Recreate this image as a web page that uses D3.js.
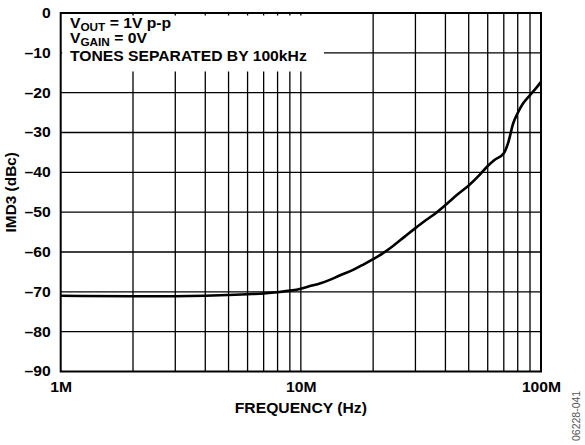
<!DOCTYPE html>
<html>
<head>
<meta charset="utf-8">
<script src="https://cdn.jsdelivr.net/npm/d3@7"></script>
<style>
  html, body { margin: 0; padding: 0; background: #fff; }
  svg { display: block; }
  text { font-family: Arial, "Liberation Sans", Helvetica, sans-serif; }
</style>
</head>
<body>
<svg id="chart" width="585" height="445"></svg>
<script>
// Third-order intermodulation distortion vs. frequency
const freqMHz = [1, 2, 3, 4, 5, 6, 7, 8, 9, 10, 11, 12, 13.2, 14.5, 16.5, 18, 20, 22, 24.2, 27, 30, 33, 35.6, 40, 45, 50, 55, 60, 64, 70, 73.3, 76.5, 80, 84, 90, 95, 100];
const imd3dBc = [-71.0, -71.1, -71.1, -71.0, -70.8, -70.6, -70.4, -70.1, -69.7, -69.2, -68.5, -67.9, -67.0, -65.9, -64.5, -63.3, -61.8, -60.3, -58.5, -56.2, -54.0, -52.1, -50.7, -48.2, -45.5, -43.3, -40.9, -38.4, -36.9, -35.2, -32.2, -27.8, -25.1, -22.8, -20.6, -19.0, -17.3];

const xTickValues = [1e6, 1e7, 1e8];
const xTickLabels = ["1M", "10M", "100M"];
const yTickValues = [0, -10, -20, -30, -40, -50, -60, -70, -80, -90];
const legendLines = [
  { main: "V", sub: "OUT", rest: " = 1V p-p" },
  { main: "V", sub: "GAIN", rest: " = 0V" },
  { main: "TONES SEPARATED BY 100kHz", sub: "", rest: "" }
];

const svg = d3.select("#chart");
const plotLeft = 60.7, plotRight = 541, plotTop = 13, plotBottom = 371.5;
const FONT = 14, WIDE = 1.12;   // wide bold lettering

// stretch each text horizontally by a factor
function widen(sel, f) {
  sel.each(function () {
    const w = this.getComputedTextLength();
    d3.select(this).attr("textLength", w * f).attr("lengthAdjust", "spacingAndGlyphs");
  });
}

const x = d3.scaleLog().domain([1e6, 1e8]).range([plotLeft, plotRight]);
const y = d3.scaleLinear().domain([-90, 0]).range([plotBottom, plotTop]);

// every 1-2-...-9 grid line in each decade
const gridFreqs = [];
for (let dec = 1e6; dec < 1e8; dec *= 10) {
  for (let m = 2; m <= 9; m++) gridFreqs.push(dec * m);
}
gridFreqs.push(1e7);

const grid = svg.append("g").attr("stroke", "#000").attr("stroke-width", 1.3);
grid.selectAll("line.v").data(gridFreqs).join("line")
  .attr("class", "v")
  .attr("x1", d => x(d)).attr("x2", d => x(d))
  .attr("y1", plotTop).attr("y2", plotBottom);
grid.selectAll("line.h").data(yTickValues.filter(v => v !== 0 && v !== -90)).join("line")
  .attr("class", "h")
  .attr("x1", plotLeft).attr("x2", plotRight)
  .attr("y1", d => y(d)).attr("y2", d => y(d));

// text block with white background
svg.append("rect")
  .attr("x", plotLeft + 1.5).attr("y", plotTop + 2.5)
  .attr("width", 324 - plotLeft - 1.5).attr("height", 71.5 - plotTop - 2.5)
  .attr("fill", "#fff");

const legend = svg.append("g").attr("font-weight", "bold").attr("font-size", FONT).attr("fill", "#000");
const baselines = [27.5, 42.5, 61];
legendLines.forEach((ln, i) => {
  const t = legend.append("text").attr("x", 70).attr("y", baselines[i]);
  t.append("tspan").text(ln.main);
  if (ln.sub) {
    t.append("tspan").attr("font-size", 10.5).attr("dy", 3).text(ln.sub);
    t.append("tspan").attr("dy", -3).text(ln.rest);
  }
});
widen(legend.selectAll("text"), WIDE);

// plot frame
svg.append("rect")
  .attr("x", plotLeft).attr("y", plotTop)
  .attr("width", plotRight - plotLeft).attr("height", plotBottom - plotTop)
  .attr("fill", "none").attr("stroke", "#000").attr("stroke-width", 2);

// data curve
const line = d3.line()
  .x((d, i) => x(freqMHz[i] * 1e6))
  .y(d => y(d))
  .curve(d3.curveMonotoneX);
svg.append("path")
  .datum(imd3dBc)
  .attr("d", line)
  .attr("fill", "none")
  .attr("stroke", "#000")
  .attr("stroke-width", 2.6)
  .attr("stroke-linejoin", "round");

// axes labels (no tick marks; the grid serves as ticks)
const xAxis = d3.axisBottom(x).tickValues(xTickValues)
  .tickFormat((d, i) => xTickLabels[i]).tickSize(0).tickPadding(11);
const xg = svg.append("g").attr("transform", `translate(0,${plotBottom})`).call(xAxis)
  .call(g => g.select(".domain").remove());
xg.selectAll("text").attr("font-size", FONT).attr("font-weight", "bold").attr("fill", "#000")
  .attr("font-family", "Arial, 'Liberation Sans', sans-serif");
widen(xg.selectAll("text"), WIDE);

const yAxis = d3.axisLeft(y).tickValues(yTickValues)
  .tickFormat(d => d === 0 ? "0" : "\u2013" + Math.abs(d)).tickSize(0).tickPadding(10);
const yg = svg.append("g").attr("transform", `translate(${plotLeft},0)`).call(yAxis)
  .call(g => g.select(".domain").remove());
yg.selectAll("text").attr("font-size", FONT).attr("font-weight", "bold").attr("fill", "#000")
  .attr("font-family", "Arial, 'Liberation Sans', sans-serif");
widen(yg.selectAll("text"), WIDE);

const xTitle = svg.append("text")
  .attr("x", (plotLeft + plotRight) / 2).attr("y", 413)
  .attr("text-anchor", "middle").attr("font-size", FONT).attr("font-weight", "bold")
  .text("FREQUENCY (Hz)");
widen(xTitle, WIDE);

const yTitle = svg.append("text")
  .attr("transform", `translate(16,${(plotTop + plotBottom) / 2}) rotate(-90)`)
  .attr("text-anchor", "middle").attr("font-size", FONT).attr("font-weight", "bold")
  .text("IMD3 (dBc)");
widen(yTitle, 1.1);

svg.append("text")
  .attr("transform", "translate(580,441) rotate(-90)")
  .attr("font-size", 10.5).attr("fill", "#555")
  .text("06228-041");
</script>
</body>
</html>
